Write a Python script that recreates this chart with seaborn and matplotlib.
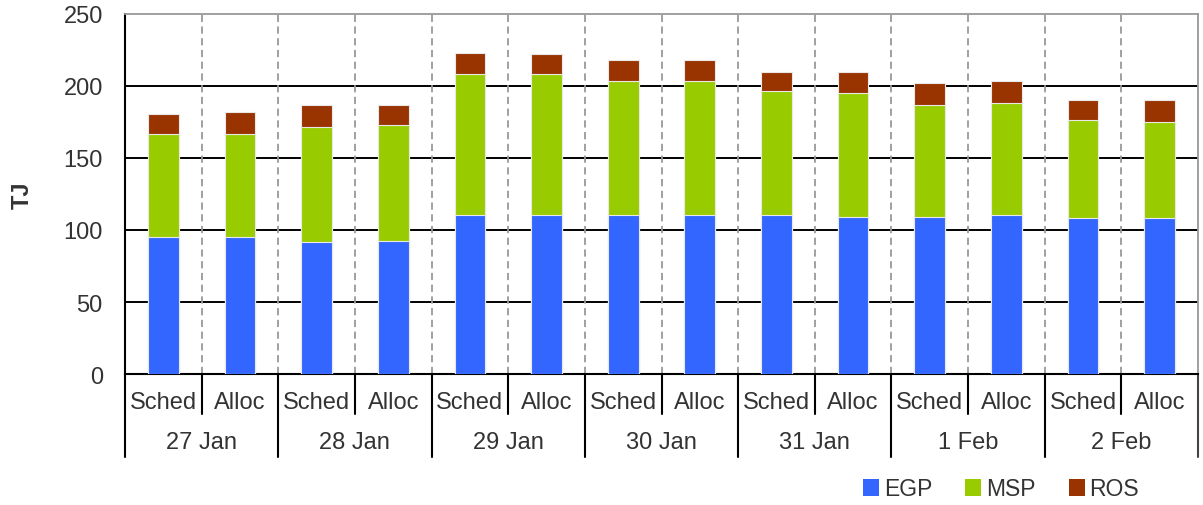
import matplotlib
matplotlib.use("Agg")
import matplotlib.pyplot as plt
import matplotlib.transforms as mtransforms
from matplotlib.patches import Patch
import numpy as np
import pandas as pd
import seaborn as sns

# Daily gas flows (TJ): scheduled vs allocated per day
dates = ["27 Jan", "28 Jan", "29 Jan", "30 Jan", "31 Jan", "1 Feb", "2 Feb"]
kinds = ["Sched", "Alloc"]
egp = [95, 95, 91.5, 92.5, 110.5, 110.5, 110.5, 110.5, 110.5, 109, 109, 110.5, 108, 108]
msp = [72, 72, 80, 80.5, 98, 98, 93, 93, 86, 86, 78, 78, 68.5, 67]
ros = [13.5, 15, 15, 13.5, 14.5, 13.5, 14.5, 14.5, 13.5, 15, 15, 15, 13.5, 15]
series = ["EGP", "MSP", "ROS"]
colors = ["#3366FF", "#99CC00", "#993300"]
y_ticks = [0, 50, 100, 150, 200, 250]

sns.set_style("white")
plt.rcParams["font.family"] = ["Liberation Sans", "DejaVu Sans"]

bar_keys = [f"{d} {k}" for d in dates for k in kinds]
df = pd.DataFrame({"bar": bar_keys, "EGP": egp, "MSP": msp, "ROS": ros})
df["lvl1"] = df["EGP"]
df["lvl2"] = df["EGP"] + df["MSP"]
df["lvl3"] = df["lvl2"] + df["ROS"]

fig = plt.figure(figsize=(12.03, 5.06), dpi=100)
ax = fig.add_axes([125 / 1203, 1 - 375 / 506, (1198 - 125) / 1203, 360 / 506])

# stacked bars: draw cumulative totals from the top layer down
for col, color in zip(["lvl3", "lvl2", "lvl1"], colors[::-1]):
    sns.barplot(data=df, x="bar", y=col, order=bar_keys, color=color,
                width=0.4, edgecolor="#e8e8e8", linewidth=0.8,
                saturation=1, ax=ax, zorder=3)

ax.set_xlim(-0.5, len(bar_keys) - 0.5)
ax.set_ylim(0, 250)
ax.set_yticks(y_ticks)
ax.set_yticklabels([str(t) for t in y_ticks], fontsize=17, color="#333333")
ax.tick_params(axis="y", direction="out", length=7, width=1.2, color="black", pad=9)
ax.set_xticks([])
ax.set_xlabel("")
ax.set_ylabel("TJ", fontsize=17, fontweight="bold", color="#333333")
ax.yaxis.set_label_coords(-0.0855, 0.5)

# horizontal gridlines
for t in y_ticks[1:-1]:
    ax.axhline(t, color="black", linewidth=1.4, zorder=1)
# dashed separators between bars
for i in range(1, len(bar_keys)):
    ax.axvline(i - 0.5, color="#999999", linewidth=1.3, linestyle=(0, (4, 2.5)), zorder=1)

for s in ["top", "right"]:
    ax.spines[s].set_color("#999999")
    ax.spines[s].set_linewidth(1.3)
ax.spines["left"].set_color("black")
ax.spines["left"].set_linewidth(1.5)
ax.spines["bottom"].set_color("black")
ax.spines["bottom"].set_linewidth(1.5)

# two-tier category axis below the plot
trans = mtransforms.blended_transform_factory(ax.transData, ax.transAxes)
tier1_y, tier1_end = -0.078, -40 / 360
tier2_y, tier2_end = -0.189, -83 / 360
for i, key in enumerate(bar_keys):
    ax.text(i, tier1_y, kinds[i % 2], transform=trans, ha="center", va="center",
            fontsize=17, color="#333333")
for i in range(len(bar_keys) + 1):
    end = tier2_end if i % 2 == 0 else tier1_end
    col = "black" if i < len(bar_keys) else "#444444"
    ax.plot([i - 0.5, i - 0.5], [0, end], transform=trans, color=col,
            linewidth=1.5, clip_on=False)
for j, d in enumerate(dates):
    ax.text(2 * j + 0.5, tier2_y, d, transform=trans, ha="center", va="center",
            fontsize=17, color="#333333")

handles = [Patch(facecolor=c, edgecolor="none") for c in colors]
fig.legend(handles, series, loc="center", bbox_to_anchor=(1001 / 1203, 1 - 490 / 506),
           ncol=3, frameon=False, fontsize=16.5, handlelength=0.7, handleheight=0.7,
           handletextpad=0.2, columnspacing=1.45, labelcolor="#333333")

fig.savefig("out.png", dpi=100)
